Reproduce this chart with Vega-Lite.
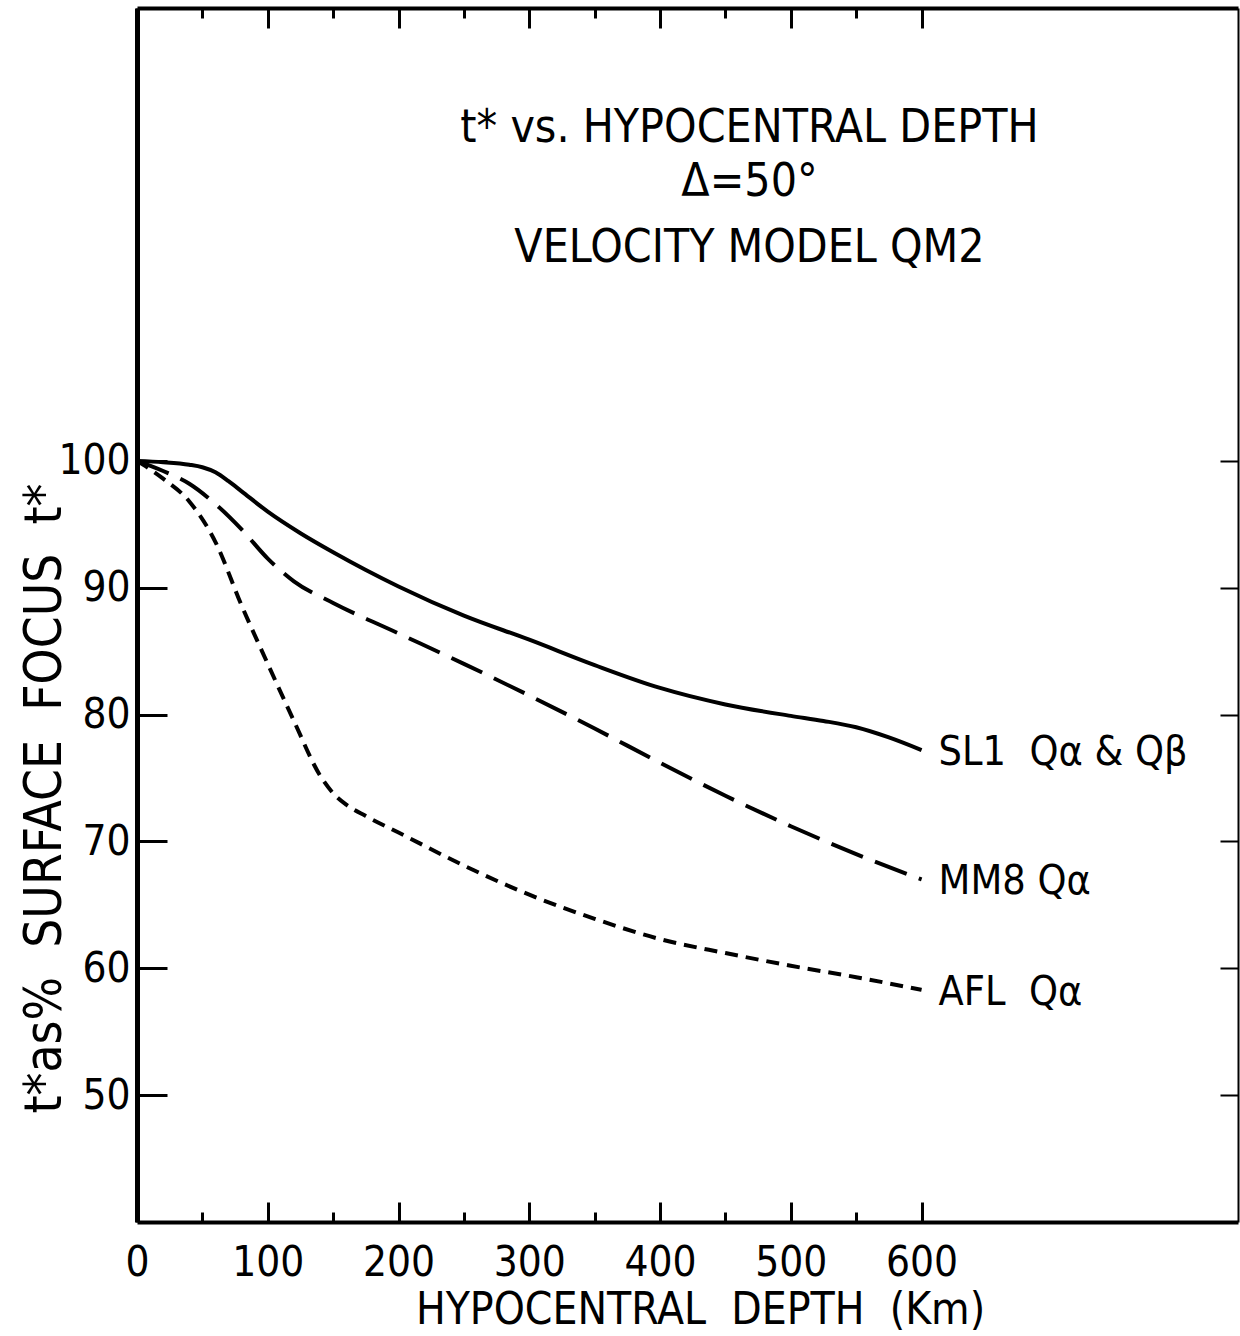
{
  "$schema": "https://vega.github.io/schema/vega-lite/v6.json",
  "width": 1101,
  "height": 1214,
  "autosize": {"type": "none"},
  "padding": {"left": 137, "top": 8, "right": 2, "bottom": 114},
  "background": "white",
  "config": {
    "view": {"stroke": null},
    "font": "Liberation Sans Narrow, DejaVu Sans Condensed, Liberation Sans",
    "axis": {"grid": false, "domainColor": "black", "tickColor": "black", "labelColor": "black", "titleColor": "black", "labelFont": "Liberation Sans Narrow, DejaVu Sans Condensed, Liberation Sans", "titleFont": "Liberation Sans Narrow, DejaVu Sans Condensed, Liberation Sans", "titleFontWeight": "normal"}
  },
  "title": {
    "text": "t* vs. HYPOCENTRAL DEPTH",
    "subtitle": ["Δ=50°", "VELOCITY MODEL QM2"],
    "fontSize": 46,
    "subtitleFontSize": 46,
    "fontWeight": "normal",
    "subtitleFontWeight": "normal",
    "color": "black",
    "subtitleColor": "black",
    "font": "Liberation Sans Narrow, DejaVu Sans Condensed, Liberation Sans",
    "subtitleFont": "Liberation Sans Narrow, DejaVu Sans Condensed, Liberation Sans",
    "lineHeight": 48,
    "subtitleLineHeight": 66,
    "subtitlePadding": 8,
    "anchor": "middle",
    "frame": "group",
    "offset": -265,
    "dx": 62
  },
  "datasets": {
    "curves": [
      {"model": "SL1", "depth": 0, "pct": 100},
      {"model": "SL1", "depth": 20, "pct": 99.9},
      {"model": "SL1", "depth": 40, "pct": 99.7},
      {"model": "SL1", "depth": 50, "pct": 99.5},
      {"model": "SL1", "depth": 60, "pct": 99.1},
      {"model": "SL1", "depth": 70, "pct": 98.4},
      {"model": "SL1", "depth": 80, "pct": 97.6},
      {"model": "SL1", "depth": 100, "pct": 96.0},
      {"model": "SL1", "depth": 125, "pct": 94.3},
      {"model": "SL1", "depth": 150, "pct": 92.8},
      {"model": "SL1", "depth": 175, "pct": 91.4},
      {"model": "SL1", "depth": 200, "pct": 90.1},
      {"model": "SL1", "depth": 250, "pct": 87.8},
      {"model": "SL1", "depth": 300, "pct": 85.9},
      {"model": "SL1", "depth": 350, "pct": 83.9},
      {"model": "SL1", "depth": 400, "pct": 82.1},
      {"model": "SL1", "depth": 450, "pct": 80.8},
      {"model": "SL1", "depth": 500, "pct": 79.9},
      {"model": "SL1", "depth": 525, "pct": 79.5},
      {"model": "SL1", "depth": 550, "pct": 79.0},
      {"model": "SL1", "depth": 575, "pct": 78.2},
      {"model": "SL1", "depth": 600, "pct": 77.2},
      {"model": "MM8", "depth": 0, "pct": 100},
      {"model": "MM8", "depth": 20, "pct": 99.2},
      {"model": "MM8", "depth": 40, "pct": 98.2},
      {"model": "MM8", "depth": 60, "pct": 96.6},
      {"model": "MM8", "depth": 80, "pct": 94.6},
      {"model": "MM8", "depth": 100, "pct": 92.3},
      {"model": "MM8", "depth": 120, "pct": 90.5},
      {"model": "MM8", "depth": 150, "pct": 88.8},
      {"model": "MM8", "depth": 200, "pct": 86.4},
      {"model": "MM8", "depth": 250, "pct": 84.0},
      {"model": "MM8", "depth": 300, "pct": 81.5},
      {"model": "MM8", "depth": 350, "pct": 78.9},
      {"model": "MM8", "depth": 400, "pct": 76.2},
      {"model": "MM8", "depth": 450, "pct": 73.6},
      {"model": "MM8", "depth": 500, "pct": 71.2},
      {"model": "MM8", "depth": 550, "pct": 69.0},
      {"model": "MM8", "depth": 600, "pct": 67.0},
      {"model": "AFL", "depth": 0, "pct": 100},
      {"model": "AFL", "depth": 20, "pct": 98.6},
      {"model": "AFL", "depth": 40, "pct": 96.8},
      {"model": "AFL", "depth": 60, "pct": 93.6},
      {"model": "AFL", "depth": 80, "pct": 88.6},
      {"model": "AFL", "depth": 100, "pct": 84.0},
      {"model": "AFL", "depth": 120, "pct": 79.5},
      {"model": "AFL", "depth": 140, "pct": 75.2},
      {"model": "AFL", "depth": 150, "pct": 73.8},
      {"model": "AFL", "depth": 160, "pct": 72.9},
      {"model": "AFL", "depth": 175, "pct": 72.0},
      {"model": "AFL", "depth": 200, "pct": 70.7},
      {"model": "AFL", "depth": 250, "pct": 68.1},
      {"model": "AFL", "depth": 300, "pct": 65.8},
      {"model": "AFL", "depth": 350, "pct": 63.9},
      {"model": "AFL", "depth": 400, "pct": 62.3},
      {"model": "AFL", "depth": 450, "pct": 61.2},
      {"model": "AFL", "depth": 500, "pct": 60.2},
      {"model": "AFL", "depth": 550, "pct": 59.3},
      {"model": "AFL", "depth": 600, "pct": 58.3}
    ]
  },
  "layer": [
    {
      "data": {"name": "curves"},
      "transform": [{"filter": "datum.model === 'SL1'"}],
      "mark": {"type": "line", "color": "black", "strokeWidth": 4, "interpolate": "monotone"},
      "encoding": {
        "x": {"field": "depth", "type": "quantitative", "scale": {"domain": [0, 842], "nice": false, "zero": false},
          "axis": {"orient": "bottom", "values": [0, 100, 200, 300, 400, 500, 600], "tickSize": -20, "tickWidth": 3, "domainWidth": 4, "labelFontSize": 42, "labelPadding": 40, "labelFlush": false, "labelOverlap": false, "title": "HYPOCENTRAL\u00a0\u00a0DEPTH\u00a0\u00a0(Km)", "titleFontSize": 44, "titleX": 563, "titleY": 88, "titleBaseline": "middle", "titleAlign": "center", "titleAnchor": null}},
        "y": {"field": "pct", "type": "quantitative", "scale": {"domain": [40, 135.7], "nice": false, "zero": false},
          "axis": {"orient": "left", "values": [50, 60, 70, 80, 90, 100], "tickSize": -30, "tickWidth": 3, "domainWidth": 5, "labelFontSize": 42, "labelPadding": 37, "labelFlush": false, "labelOverlap": false, "title": "t*as%\u00a0\u00a0SURFACE\u00a0\u00a0FOCUS\u00a0\u00a0t*", "titleFontSize": 51, "titleX": -92, "titleY": 790, "titleAngle": -90, "titleBaseline": "middle", "titleAlign": "center", "titleAnchor": null}}
      }
    },
    {
      "data": {"name": "curves"},
      "transform": [{"filter": "datum.model === 'MM8'"}],
      "mark": {"type": "line", "color": "black", "strokeWidth": 4, "interpolate": "monotone", "strokeDash": [34, 13]},
      "encoding": {
        "x": {"field": "depth", "type": "quantitative",
          "axis": {"orient": "bottom", "values": [50, 150, 250, 350, 450, 550], "tickSize": -10, "tickWidth": 3, "domain": false, "labels": false, "title": null}},
        "y": {"field": "pct", "type": "quantitative",
          "axis": {"orient": "right", "values": [50, 60, 70, 80, 90, 100], "tickSize": -18, "tickWidth": 2, "domainWidth": 2, "labels": false, "title": null}}
      }
    },
    {
      "data": {"name": "curves"},
      "transform": [{"filter": "datum.model === 'AFL'"}],
      "mark": {"type": "line", "color": "black", "strokeWidth": 4, "interpolate": "monotone", "strokeDash": [13, 8]},
      "encoding": {
        "x": {"field": "depth", "type": "quantitative",
          "axis": {"orient": "top", "values": [0, 100, 200, 300, 400, 500, 600], "tickSize": -20, "tickWidth": 3, "domainWidth": 4, "labels": false, "title": null}},
        "y": {"field": "pct", "type": "quantitative", "axis": null}
      }
    },
    {
      "data": {"name": "curves"},
      "transform": [
        {"filter": "datum.depth === 600"},
        {"lookup": "model", "from": {"data": {"values": [
          {"model": "SL1", "label": "SL1\u00a0\u00a0Qα & Qβ"},
          {"model": "MM8", "label": "MM8 Qα"},
          {"model": "AFL", "label": "AFL\u00a0\u00a0Qα"}
        ]}, "key": "model", "fields": ["label"]}}
      ],
      "mark": {"type": "text", "align": "left", "baseline": "middle", "dx": 17, "dy": 3, "fontSize": 41, "color": "black", "font": "Liberation Sans Narrow, DejaVu Sans Condensed, Liberation Sans"},
      "encoding": {
        "x": {"field": "depth", "type": "quantitative",
          "axis": {"orient": "top", "values": [50, 150, 250, 350, 450, 550], "tickSize": -10, "tickWidth": 3, "domain": false, "labels": false, "title": null}},
        "y": {"field": "pct", "type": "quantitative", "axis": null},
        "text": {"field": "label"}
      }
    }
  ],
  "resolve": {"axis": {"x": "independent", "y": "independent"}}
}
